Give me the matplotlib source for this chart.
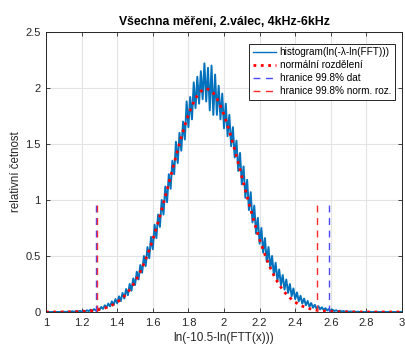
# histogram of ln(-10.5-ln(FFT)) vs fitted normal distribution

import numpy as np
import matplotlib
matplotlib.use("Agg")
import matplotlib.pyplot as plt

# histogram (relative frequency), bins of 0.01 from 1.00 to 3.00
hist_x0, hist_step = 1.00, 0.01
hist_vals = (
    [0, 0, 0, 0, 0, 0, 0, 0, 0, 0, 0.002, 0, 0.003, 0.001, 0.004]  # 1.00-1.14
    + [0.006, 0.002, 0.008, 0.003, 0.010, 0.004, 0.012, 0.005, 0.015, 0.008,
       0.020, 0.010, 0.026, 0.014, 0.034, 0.020, 0.045, 0.028, 0.060, 0.038,
       0.075, 0.050, 0.095, 0.062, 0.115, 0.078, 0.140, 0.098, 0.170, 0.120,
       0.205, 0.150, 0.250, 0.190, 0.300, 0.240, 0.360, 0.290, 0.420, 0.350,
       0.500, 0.410, 0.580, 0.480, 0.670, 0.560, 0.780, 0.660, 0.870, 0.760,
       1.000, 0.870, 1.120, 0.980, 1.230, 1.100, 1.350, 1.230, 1.520, 1.330,
       1.600, 1.440, 1.700, 1.540, 1.880, 1.650, 1.920, 1.720, 2.050, 1.820,
       2.100, 1.860, 2.150, 1.900, 2.220, 1.880, 2.180, 1.800, 2.200, 1.760,
       2.120, 1.760, 2.020, 1.720, 1.950, 1.640, 1.860, 1.570, 1.760, 1.480,
       1.650, 1.380, 1.530, 1.260, 1.420, 1.140, 1.300, 1.020, 1.180, 0.910,
       1.070, 0.800, 0.950, 0.700, 0.840, 0.610, 0.750, 0.530, 0.660, 0.450,
       0.580, 0.390, 0.500, 0.330, 0.440, 0.280, 0.380, 0.240, 0.330, 0.200,
       0.290, 0.170, 0.250, 0.140, 0.210, 0.115, 0.175, 0.095, 0.145, 0.075,
       0.120, 0.060, 0.098, 0.048, 0.080, 0.038, 0.064, 0.030, 0.052, 0.024,
       0.042, 0.018, 0.034, 0.014, 0.027, 0.010, 0.021, 0.008, 0.016, 0.005,
       0.012, 0.004, 0.009, 0.002, 0.007, 0.002, 0.005, 0.001, 0.004, 0,
       0.003]  # 1.15-2.75
    + [0] * 25  # 2.76-3.00
)

# normal distribution (mu 1.9, sigma 0.2), sampled every 0.02 from 1.00 to 3.00
norm_x0, norm_step = 1.00, 0.02
norm_left = [0.0001, 0.0001, 0.0002, 0.0003, 0.0004, 0.0007, 0.0010, 0.0015,
             0.0021, 0.0031, 0.0044, 0.0062, 0.0086, 0.0119, 0.0163, 0.0222,
             0.0298, 0.0396, 0.0521, 0.0679, 0.0876, 0.1120, 0.1417, 0.1775,
             0.2200, 0.2700, 0.3280, 0.3946, 0.4702, 0.5546, 0.6476, 0.7484,
             0.8567, 0.9710, 1.0893, 1.2099, 1.3304, 1.4485, 1.5613, 1.6661,
             1.7603, 1.8413, 1.9069, 1.9552, 1.9848]
norm_peak = 1.9947
norm_vals = norm_left + [norm_peak] + norm_left[::-1] + [0.0001] + [0] * 9

# 99.8 % bounds
data_bounds = [1.279, 2.59]
norm_bounds = [1.285, 2.52]
bound_height = 1.0

hist_x = hist_x0 + hist_step * np.arange(len(hist_vals))
norm_x = norm_x0 + norm_step * np.arange(len(norm_vals))

plt.rcParams['font.family'] = ['Liberation Sans', 'DejaVu Sans']

fig = plt.figure(figsize=(4.05, 3.47), dpi=100)
ax = fig.add_axes([0.1136, 0.1009, 0.8790, 0.8069])

ax.plot(hist_x, hist_vals, '-', color='#0072BD', lw=1.4,
        label='histogram(ln(-λ-ln(FFT)))')
ax.plot(norm_x, norm_vals, ':', color='#ff0000', lw=2.0,
        label='normální rozdělení')
for i, b in enumerate(data_bounds):
  ax.plot([b, b], [0, bound_height], '--', color='#4a4aff', lw=1.0,
          dashes=(5, 4), label='hranice 99.8% dat' if i == 0 else None)
for i, b in enumerate(norm_bounds):
  ax.plot([b, b], [0, bound_height], '--', color='#ff2a2a', lw=1.0,
          dashes=(5, 4), label='hranice 99.8% norm. roz.' if i == 0 else None)

ax.set_xlim(1, 3)
ax.set_ylim(0, 2.5)
ax.set_xticks(np.arange(1, 3.01, 0.2))
ax.set_xticklabels(['1', '1.2', '1.4', '1.6', '1.8', '2', '2.2', '2.4', '2.6', '2.8', '3'])
ax.set_yticks([0, 0.5, 1, 1.5, 2, 2.5])
ax.set_yticklabels(['0', '0.5', '1', '1.5', '2', '2.5'])
ax.tick_params(direction='in', length=3, width=0.6, top=True, right=True,
               labelsize=8, colors='#262626', pad=4)
ax.grid(True, color='#e3e3e3', lw=0.8)
ax.set_axisbelow(True)
for s in ax.spines.values():
  s.set_color('#262626')
  s.set_linewidth(0.7)

ax.set_title('Všechna měření, 2.válec, 4kHz-6kHz', fontsize=8.8,
             fontweight='bold', color='#000000', pad=5)
ax.set_xlabel('ln(-10.5-ln(FTT(x)))', fontsize=8.5, color='#262626', labelpad=3)
ax.set_ylabel('relativní četnost', fontsize=8.3, color='#262626', labelpad=2)

leg = ax.legend(loc='upper right', bbox_to_anchor=(0.985, 0.965), fontsize=7.2,
                frameon=True, fancybox=False, framealpha=1, edgecolor='#262626',
                handlelength=2.3, handletextpad=0.4, borderpad=0.35,
                labelspacing=0.3, borderaxespad=0.2)
leg.get_frame().set_linewidth(0.7)
leg.get_lines()[0].set_linewidth(1.0)

fig.savefig('out.png', dpi=100)
